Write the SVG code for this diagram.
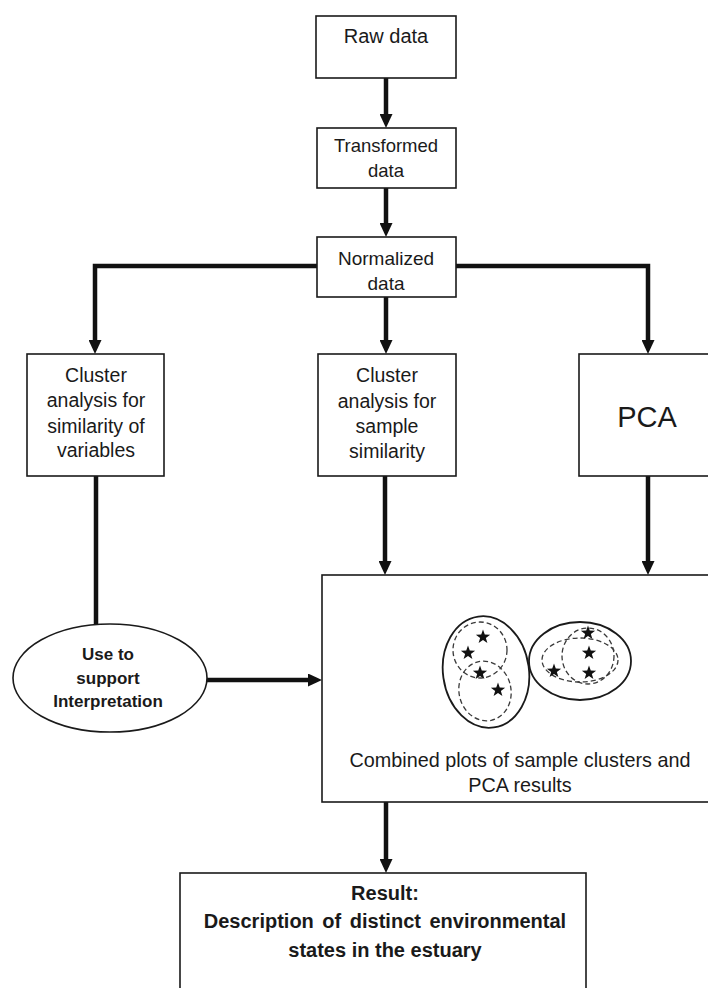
<svg xmlns="http://www.w3.org/2000/svg" width="708" height="988" viewBox="0 0 708 988">
  <style>
    .box { fill: #ffffff; stroke: #1a1a1a; stroke-width: 1.6; }
    .wire { fill: none; stroke: #111111; stroke-width: 4.5; }
    .lbl { font-family: "Liberation Sans", Arial, sans-serif; fill: #1a1a1a; text-anchor: middle; }
    .bold { font-weight: bold; }
    .ring { fill: none; stroke: #1a1a1a; stroke-width: 1.8; }
    .dash { fill: none; stroke: #3a3a3a; stroke-width: 1.3; stroke-dasharray: 5 3; }
  </style>
  <defs>
    <marker id="head" viewBox="0 0 14 13" markerWidth="14" markerHeight="13" refX="8" refY="6.5" orient="auto" markerUnits="userSpaceOnUse">
      <path d="M0,0 L14,6.5 L0,13 Z" fill="#111111"/>
    </marker>
    <path id="star" d="M0,-7.5 L1.77,-2.43 L7.13,-2.32 L2.85,0.93 L4.41,6.07 L0,3 L-4.41,6.07 L-2.85,0.93 L-7.13,-2.32 L-1.77,-2.43 Z" fill="#111111"/>
  </defs>

  <rect width="708" height="988" fill="#ffffff"/>

  <!-- connectors -->
  <g id="connectors">
    <path class="wire" d="M386,78 V122" marker-end="url(#head)"/>
    <path class="wire" d="M386,188 V231" marker-end="url(#head)"/>
    <path class="wire" d="M386,297 V348" marker-end="url(#head)"/>
    <path class="wire" d="M317,266 H95 V348" marker-end="url(#head)"/>
    <path class="wire" d="M456,266 H648 V348" marker-end="url(#head)"/>
    <path class="wire" d="M96,476 V625"/>
    <path class="wire" d="M385,476 V569" marker-end="url(#head)"/>
    <path class="wire" d="M648,476 V569" marker-end="url(#head)"/>
    <path class="wire" d="M207,680 H316" marker-end="url(#head)"/>
    <path class="wire" d="M386,802 V867" marker-end="url(#head)"/>
  </g>

  <g id="raw">
    <rect class="box" x="316" y="16" width="140" height="62"/>
    <text class="lbl" x="386" y="43" font-size="20">Raw data</text>
  </g>

  <g id="transformed">
    <rect class="box" x="317" y="128" width="139" height="60"/>
    <text class="lbl" x="386" y="152" font-size="18.5">Transformed</text>
    <text class="lbl" x="386" y="177" font-size="18.5">data</text>
  </g>

  <g id="normalized">
    <rect class="box" x="317" y="237" width="139" height="60"/>
    <text class="lbl" x="386" y="265" font-size="19">Normalized</text>
    <text class="lbl" x="386" y="290" font-size="19">data</text>
  </g>

  <g id="cluster-variables">
    <rect class="box" x="27" y="354" width="137" height="122"/>
    <text class="lbl" x="96" y="382" font-size="19.5">Cluster</text>
    <text class="lbl" x="96" y="407" font-size="19.5">analysis for</text>
    <text class="lbl" x="96" y="433" font-size="19.5">similarity of</text>
    <text class="lbl" x="96" y="457" font-size="19.5">variables</text>
  </g>

  <g id="cluster-samples">
    <rect class="box" x="318" y="354" width="138" height="122"/>
    <text class="lbl" x="387" y="382" font-size="19.5">Cluster</text>
    <text class="lbl" x="387" y="408" font-size="19.5">analysis for</text>
    <text class="lbl" x="387" y="433" font-size="19.5">sample</text>
    <text class="lbl" x="387" y="458" font-size="19.5">similarity</text>
  </g>

  <g id="pca">
    <rect class="box" x="579" y="354" width="140" height="122"/>
    <text class="lbl" x="647" y="427" font-size="29">PCA</text>
  </g>

  <g id="support">
    <ellipse class="box" cx="110" cy="678" rx="97" ry="54"/>
    <text class="lbl bold" x="108" y="660" font-size="17">Use to</text>
    <text class="lbl bold" x="108" y="684" font-size="17">support</text>
    <text class="lbl bold" x="108" y="707" font-size="17">Interpretation</text>
  </g>

  <g id="combined">
    <rect class="box" x="322" y="575" width="400" height="227"/>
    <!-- left sample cluster -->
    <ellipse class="ring" cx="486" cy="672" rx="43" ry="56" transform="rotate(-8 486 672)"/>
    <ellipse class="dash" cx="480" cy="650" rx="27" ry="28"/>
    <ellipse class="dash" cx="485" cy="691" rx="26" ry="30" transform="rotate(-12 485 691)"/>
    <use href="#star" x="483" y="637"/>
    <use href="#star" x="468" y="653"/>
    <use href="#star" x="480" y="673"/>
    <use href="#star" x="498" y="690"/>
    <!-- right sample cluster -->
    <ellipse class="ring" cx="580" cy="661" rx="51" ry="39"/>
    <ellipse class="dash" cx="588" cy="656" rx="26" ry="28"/>
    <ellipse class="dash" cx="580" cy="660" rx="38" ry="22"/>
    <use href="#star" x="588" y="633"/>
    <use href="#star" x="589" y="653"/>
    <use href="#star" x="589" y="673"/>
    <use href="#star" x="554" y="671"/>
    <text class="lbl" x="520" y="767" font-size="19.8">Combined plots of sample clusters and</text>
    <text class="lbl" x="520" y="792" font-size="19.8">PCA results</text>
  </g>

  <g id="result">
    <rect class="box" x="180" y="873" width="406" height="130"/>
    <text class="lbl bold" x="385" y="900" font-size="20">Result:</text>
    <text class="lbl bold" x="385" y="928" font-size="20" word-spacing="3">Description of distinct environmental</text>
    <text class="lbl bold" x="385" y="957" font-size="20">states in the estuary</text>
  </g>
</svg>
